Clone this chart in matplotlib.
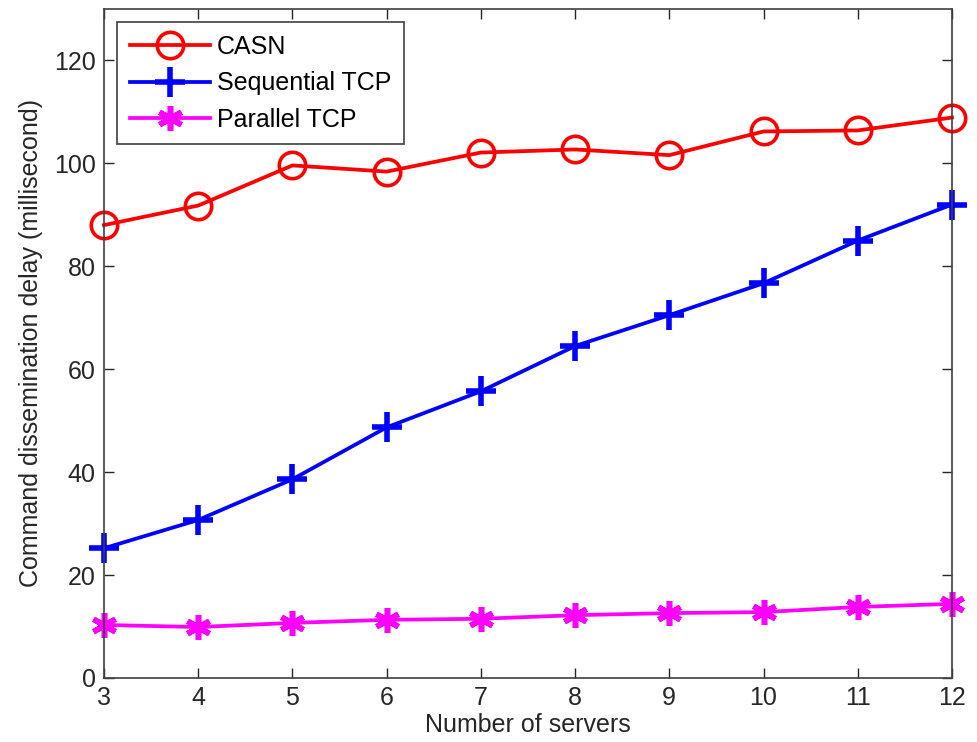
import matplotlib
matplotlib.use('Agg')
import matplotlib.pyplot as plt

plt.rcParams['font.family'] = ['Liberation Sans', 'DejaVu Sans']

servers = [3, 4, 5, 6, 7, 8, 9, 10, 11, 12]
casn = [88.0, 91.8, 99.6, 98.4, 102.1, 102.7, 101.6, 106.2, 106.4, 108.9]
sequential_tcp = [25.2, 30.7, 38.6, 48.7, 55.7, 64.5, 70.5, 76.7, 85.0, 92.0]
parallel_tcp = [10.3, 9.9, 10.7, 11.3, 11.5, 12.2, 12.6, 12.8, 13.8, 14.4]

fig = plt.figure(figsize=(9.77, 7.42), dpi=100)
ax = fig.add_axes([0.1064, 0.0863, 0.868, 0.9016])

ax.plot(servers, casn, color='red', lw=2.7, marker='o', ms=19,
        mfc='none', mew=2.6, label='CASN', clip_on=False)
ax.plot(servers, sequential_tcp, color='blue', lw=2.7, marker='+', ms=21,
        mew=4, label='Sequential TCP', clip_on=False)
ax.plot(servers, parallel_tcp, color='magenta', lw=2.7, marker=(6, 2, 0), ms=18,
        mew=4, label='Parallel TCP', clip_on=False)

ax.set_xlim(3, 12)
ax.set_ylim(0, 130)
ax.set_xticks(servers)
ax.set_yticks([0, 20, 40, 60, 80, 100, 120])
ax.tick_params(direction='in', top=True, right=True, labelsize=18, length=7,
               width=1, colors='#262626', pad=6)
for s in ax.spines.values():
    s.set_color('#404040')
    s.set_linewidth(1.2)

ax.set_xlabel('Number of servers', fontsize=18, labelpad=2, color='#262626')
ax.set_ylabel('Command dissemination delay (millisecond)', fontsize=18,
              labelpad=8, color='#262626')

leg = ax.legend(loc='upper left', bbox_to_anchor=(0.0155, 0.98), fontsize=18,
                fancybox=False, edgecolor='#404040', framealpha=1,
                handlelength=3.2, borderpad=0.5, labelspacing=0.5,
                handletextpad=0.3, markerscale=1.0, borderaxespad=0)
leg.get_frame().set_linewidth(1.2)

fig.savefig('out.png', dpi=100)
